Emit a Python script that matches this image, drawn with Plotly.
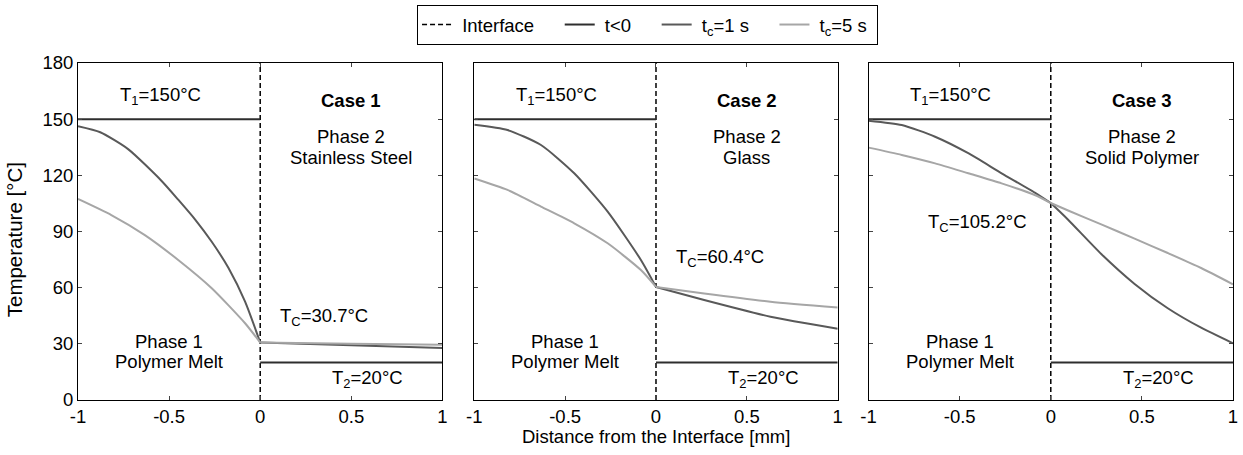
import plotly.graph_objects as go

# ---- data ----
T1 = 150
T2 = 20
Tc_values = [30.7, 60.4, 105.2]
case_names = ["Case 1", "Case 2", "Case 3"]
phase2_names = ["Stainless Steel", "Glass", "Solid Polymer"]

# Case 1 (Stainless Steel)
c1_x_left_1 = [-1, -0.878, -0.725, -0.541, -0.45, -0.358, -0.266, -0.174, -0.083, 0]
c1_T_left_1 = [146.2, 143.0, 134.0, 117.0, 107.0, 96.5, 84.5, 70.5, 52.5, 30.7]
c1_x_left_5 = [-1, -0.817, -0.633, -0.45, -0.266, -0.083, 0]
c1_T_left_5 = [107.4, 98.8, 88.1, 74.8, 59.7, 41.0, 30.7]
c1_x_right_1 = [0, 0.5, 1]
c1_T_right_1 = [30.7, 29.3, 27.8]
c1_x_right_5 = [0, 0.5, 1]
c1_T_right_5 = [30.7, 30.1, 29.5]

# Case 2 (Glass)
c2_x_left_1 = [-1, -0.817, -0.633, -0.45, -0.266, -0.083, 0]
c2_T_left_1 = [147.0, 144.2, 136.2, 121.1, 100.6, 74.8, 60.4]
c2_x_left_5 = [-1, -0.817, -0.633, -0.45, -0.266, -0.083, 0]
c2_T_left_5 = [118.3, 112.2, 103.3, 94.4, 83.7, 69.4, 60.4]
c2_x_right_1 = [0, 0.265, 0.63, 1]
c2_T_right_1 = [60.4, 53.4, 44.5, 38.1]
c2_x_right_5 = [0, 0.265, 0.63, 1]
c2_T_right_5 = [60.4, 56.9, 52.5, 49.4]

# Case 3 (Solid Polymer)
c3_x_left_1 = [-1, -0.818, -0.635, -0.453, -0.27, -0.088, 0]
c3_T_left_1 = [149.2, 146.9, 140.6, 131.8, 121.1, 110.8, 105.2]
c3_x_left_5 = [-1, -0.818, -0.635, -0.453, -0.27, -0.088, 0]
c3_T_left_5 = [134.8, 130.9, 126.4, 121.1, 115.7, 109.5, 105.2]
c3_x_right_1 = [0, 0.095, 0.277, 0.46, 0.642, 0.825, 1]
c3_T_right_1 = [105.2, 96.3, 78.0, 62.0, 49.0, 38.6, 30.3]
c3_x_right_5 = [0, 0.095, 0.277, 0.46, 0.642, 0.825, 1]
c3_T_right_5 = [105.2, 101.2, 93.8, 86.2, 78.5, 70.5, 61.8]

cases = [
    (c1_x_left_1, c1_T_left_1, c1_x_right_1, c1_T_right_1,
     c1_x_left_5, c1_T_left_5, c1_x_right_5, c1_T_right_5),
    (c2_x_left_1, c2_T_left_1, c2_x_right_1, c2_T_right_1,
     c2_x_left_5, c2_T_left_5, c2_x_right_5, c2_T_right_5),
    (c3_x_left_1, c3_T_left_1, c3_x_right_1, c3_T_right_1,
     c3_x_left_5, c3_T_left_5, c3_x_right_5, c3_T_right_5),
]

x_ticks = [-1, -0.5, 0, 0.5, 1]
x_ticklabels = ["-1", "-0.5", "0", "0.5", "1"]
y_ticks = [0, 30, 60, 90, 120, 150, 180]

# annotation positions (data coords)
tc_label_pos = [(0.35, 44.5), (0.35, 75.6), (-0.40, 94.6)]

FONT = "Liberation Sans"
FS = 18.5
C_T0 = "#2e2e2e"
C_T1 = "#595959"
C_T5 = "#a6a6a6"
NB = "\u00a0"

W, H = 1243, 455
ml, mr, mt, mb = 78, 5, 63, 55
pw = W - ml - mr
ph = H - mt - mb
domains_px = [(78, 444), (476, 841), (872, 1238)]
domains = [((a - ml) / pw, (b - ml) / pw) for a, b in domains_px]

fig = go.Figure()
annotations = []
for i, (xl1, tl1, xr1, tr1, xl5, tl5, xr5, tr5) in enumerate(cases):
    sfx = "" if i == 0 else str(i + 1)
    xref = "x" + sfx
    yref = "y" + sfx
    first = i == 0
    fig.add_trace(go.Scatter(x=[0, 0], y=[0, 180], mode="lines",
                             line=dict(color="black", width=1.5, dash="5px,3px"),
                             name=NB + "Interface" + NB * 4, showlegend=first, legendgroup="if",
                             xaxis=xref, yaxis=yref))
    fig.add_trace(go.Scatter(x=[-1, 0, None, 0, 1], y=[T1, T1, None, T2, T2], mode="lines",
                             line=dict(color=C_T0, width=2),
                             name=NB + "t<0" + NB * 4, showlegend=first, legendgroup="t0",
                             xaxis=xref, yaxis=yref))
    fig.add_trace(go.Scatter(x=xl1 + [None] + xr1, y=tl1 + [None] + tr1, mode="lines",
                             line=dict(color=C_T1, width=2, shape="spline", smoothing=0.6),
                             name=NB + "t<sub>c</sub>=1 s" + NB * 4, showlegend=first, legendgroup="t1",
                             connectgaps=False, xaxis=xref, yaxis=yref))
    fig.add_trace(go.Scatter(x=xl5 + [None] + xr5, y=tl5 + [None] + tr5, mode="lines",
                             line=dict(color=C_T5, width=2, shape="spline", smoothing=0.6),
                             name=NB + "t<sub>c</sub>=5 s" + NB, showlegend=first, legendgroup="t5",
                             connectgaps=False, xaxis=xref, yaxis=yref))

    ax = dict(domain=list(domains[i]), range=[-1, 1], tickvals=x_ticks, ticktext=x_ticklabels,
              ticks="inside", ticklen=4, showline=True, linecolor="black", linewidth=1,
              mirror="allticks", showgrid=False, zeroline=False,
              tickfont=dict(size=FS, color="black", family=FONT), anchor=yref)
    ay = dict(range=[0, 180], tickvals=y_ticks, ticks="inside", ticklen=4, showline=True,
              linecolor="black", linewidth=1, mirror="allticks", showgrid=False, zeroline=False,
              tickfont=dict(size=FS, color="black", family=FONT), anchor=xref,
              showticklabels=first)
    fig.update_layout(**{"xaxis" + sfx: ax, "yaxis" + sfx: ay})

    def ann(x, y, text, bold=False):
        annotations.append(dict(x=x, y=y, xref=xref, yref=yref,
                                text=("<b>%s</b>" % text) if bold else text,
                                showarrow=False, font=dict(size=FS, color="black", family=FONT),
                                xanchor="center", yanchor="middle"))

    ann(-0.55, 162.5, "T<sub>1</sub>=150°C")
    ann(0.5, 160, case_names[i], bold=True)
    ann(0.5, 140.5, "Phase 2")
    ann(0.5, 129.5, phase2_names[i])
    ann(-0.5, 31, "Phase 1")
    ann(-0.5, 20.3, "Polymer Melt")
    ann(tc_label_pos[i][0], tc_label_pos[i][1], "T<sub>C</sub>=%.1f°C" % Tc_values[i])
    ann(0.59, 11.0, "T<sub>2</sub>=20°C")

# axis titles
annotations.append(dict(x=(658 - ml) / pw, y=(400 - 437) / ph, xref="paper", yref="paper",
                        text="Distance from the Interface [mm]", showarrow=False,
                        font=dict(size=FS, color="black", family=FONT),
                        xanchor="center", yanchor="middle"))
annotations.append(dict(x=(14 - ml) / pw, y=(400 - 240) / ph, xref="paper", yref="paper",
                        text="Temperature [°C]", showarrow=False, textangle=-90,
                        font=dict(size=20.5, color="black", family=FONT),
                        xanchor="center", yanchor="middle"))

fig.update_layout(
    width=W, height=H,
    margin=dict(l=ml, r=mr, t=mt, b=mb),
    paper_bgcolor="white", plot_bgcolor="white",
    font=dict(family=FONT, size=FS, color="black"),
    annotations=annotations,
    legend=dict(orientation="h", x=(650 - ml) / pw, xanchor="center", y=1 + (mt - 5) / ph,
                yanchor="top", bordercolor="black", borderwidth=1, bgcolor="white",
                font=dict(size=FS, color="black", family=FONT), tracegroupgap=0),
    showlegend=True,
)

fig.write_html("out.html")
